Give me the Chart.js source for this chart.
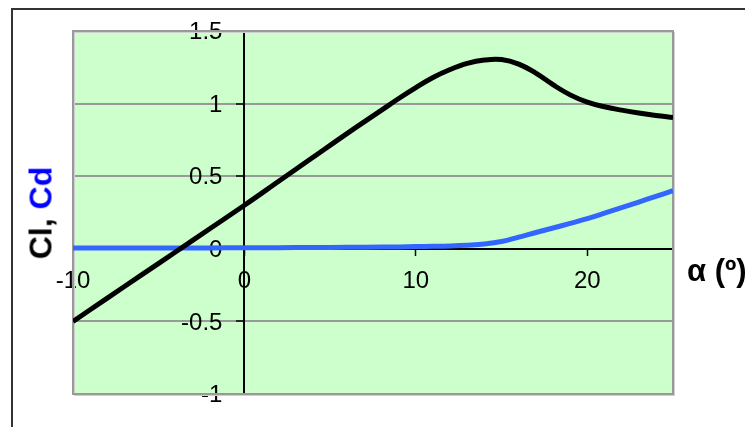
<!DOCTYPE html>
<html><head><meta charset="utf-8">
<script src="https://cdn.jsdelivr.net/npm/chart.js@4"></script>
<style>
html,body{margin:0;padding:0;background:#fff;overflow:hidden;width:745px;height:427px;}
#frame{position:absolute;left:11px;top:8px;width:800px;height:500px;border-left:2px solid #333;border-top:2px solid #333;}
#c{position:absolute;left:0;top:0;}
.ytitle{position:absolute;left:41px;top:213px;transform:translate(-50%,-50%) rotate(-90deg);font:bold 32px "Liberation Sans",Arial,sans-serif;white-space:nowrap;color:#000;z-index:2;}
.xtitle{position:absolute;left:687px;top:271px;transform:translateY(-50%);font:bold 31px "Liberation Sans",Arial,sans-serif;white-space:nowrap;color:#000;z-index:2;}
</style>
</head><body>
<div id="frame"></div>
<canvas id="c" width="745" height="427"></canvas>
<div class="ytitle"><span style="color:#000">Cl, </span><span style="color:#0000ff">Cd</span></div>
<div class="xtitle">α (º)</div>
<script>
const alpha = [-10,-8,-6,-4,-2,0,2,4,6,8,9,10,11,12,13,14,15,16,17,18,19,20,21,22,23,24,25];
const cl    = [-0.50,-0.34,-0.18,-0.02,0.14,0.30,0.465,0.63,0.795,0.955,1.035,1.11,1.18,1.235,1.277,1.30,1.303,1.272,1.21,1.13,1.06,1.01,0.978,0.955,0.935,0.918,0.904];
const cd    = [0.005,0.005,0.005,0.006,0.006,0.007,0.008,0.009,0.010,0.012,0.013,0.015,0.017,0.020,0.025,0.033,0.050,0.080,0.112,0.143,0.175,0.208,0.245,0.283,0.322,0.361,0.400];
const xTicks = [-10, 0, 10, 20];
const yTicks = [-1, -0.5, 0, 0.5, 1, 1.5];

const zeroPad = s => { s.paddingLeft = 0; s.paddingRight = 0; s.paddingTop = 0; s.paddingBottom = 0; };

// shift y tick labels left of the crossing axis (tick length + padding)
const shiftYLabels = s => {
  if (s.__shifted || typeof s._computeLabelItems !== 'function') return;
  const orig = s._computeLabelItems.bind(s);
  s._computeLabelItems = ca => orig(ca).map(it => {
    if (it.options && it.options.translation) {
      it.options.translation = [it.options.translation[0] - 22, it.options.translation[1] + 1.5];
    }
    return it;
  });
  s.__shifted = true;
};

const areaPlugin = {
  id: 'area',
  beforeDraw(chart) {
    const {ctx, chartArea: a} = chart;
    ctx.save();
    ctx.fillStyle = '#ccffcc';
    ctx.fillRect(a.left, a.top, a.right - a.left, a.bottom - a.top);
    ctx.restore();
  },
  beforeDatasetsDraw(chart) {
    const {ctx, chartArea: a} = chart;
    ctx.save();
    ctx.strokeStyle = '#d0d0d0';
    ctx.lineWidth = 1;
    ctx.strokeRect(a.left + 1.5, a.top + 1.5, a.right - a.left, a.bottom - a.top);
    ctx.strokeStyle = '#999';
    ctx.lineWidth = 2;
    ctx.strokeRect(a.left, a.top, a.right - a.left, a.bottom - a.top);
    ctx.restore();
  }
};

new Chart(document.getElementById('c'), {
  type: 'line',
  data: {
    datasets: [
      { label: 'Cl', data: alpha.map((a, i) => ({x: a, y: cl[i]})), borderColor: '#000', borderWidth: 5, pointRadius: 0, tension: 0.4, clip: 0 },
      { label: 'Cd', data: alpha.map((a, i) => ({x: a, y: cd[i]})), borderColor: '#3366ff', borderWidth: 5, pointRadius: 0, tension: 0.4, clip: 0 }
    ]
  },
  options: {
    responsive: false,
    animation: false,
    devicePixelRatio: 1,
    layout: { padding: { left: 73, top: 31, right: 72, bottom: 33 } },
    plugins: { legend: { display: false }, tooltip: { enabled: false } },
    scales: {
      x: {
        type: 'linear', min: -10, max: 25, position: { y: 0 },
        afterBuildTicks: s => { s.ticks = xTicks.map(v => ({value: v})); },
        afterFit: zeroPad,
        ticks: { font: { family: '"Liberation Sans", Arial, sans-serif', size: 24 }, color: '#000', padding: 12, autoSkip: false, maxRotation: 0, callback: v => String(v) },
        grid: { drawOnChartArea: false, tickLength: 6, tickColor: '#000', tickWidth: 1.5 },
        border: { color: '#000', width: 2 }
      },
      y: {
        type: 'linear', min: -1, max: 1.5, position: { x: 0 },
        afterBuildTicks: s => { s.ticks = yTicks.map(v => ({value: v})); },
        afterFit: zeroPad,
        afterUpdate: shiftYLabels,
        ticks: { font: { family: '"Liberation Sans", Arial, sans-serif', size: 24 }, color: '#000', padding: 14, autoSkip: false, callback: v => String(v) },
        grid: { color: c => (c.tick && c.tick.value === 0) ? 'rgba(0,0,0,0)' : '#999', lineWidth: 2, tickLength: 7, tickColor: '#000', tickWidth: 1.5 },
        border: { color: '#000', width: 2 }
      }
    }
  },
  plugins: [areaPlugin]
});
</script>
</body></html>
